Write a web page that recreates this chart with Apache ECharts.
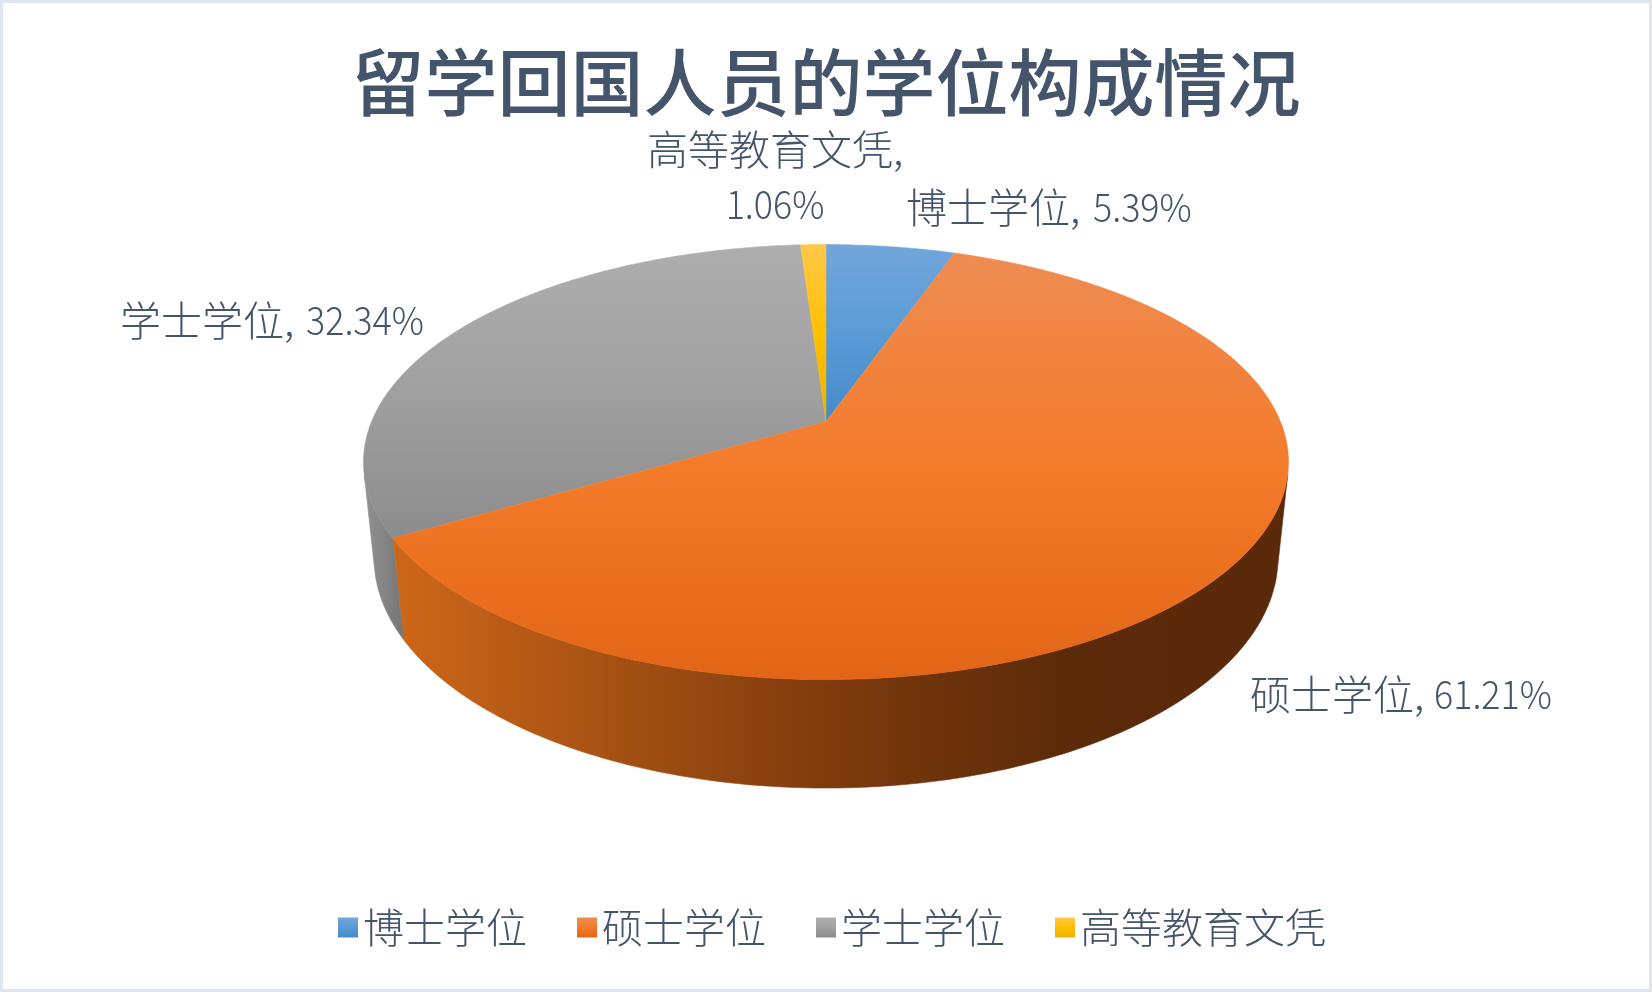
<!DOCTYPE html>
<html><head><meta charset="utf-8">
<style>html,body{margin:0;padding:0;background:#fff}#c{width:1652px;height:992px}</style>
<script src="https://cdn.jsdelivr.net/npm/echarts@6/dist/echarts.min.js"></script>
</head><body><div id="c"></div>
<script>
const titleText = '留学回国人员的学位构成情况';
const categories = ['博士学位', '硕士学位', '学士学位', '高等教育文凭'];
const shares = [5.39, 61.21, 32.34, 1.06];

// styling tables
const nameAnchors = [[906, 207, 'left'], [1250, 694, 'left'], [120, 320, 'left'], [647, 149, 'left']];
const valueAnchors = [[1093, 207, 'left'], [1434, 694, 'left'], [306, 320, 'left'], [775, 204, 'center']];
const topStops = [
  ['#72A6DB', '#5B9BD5', '#428AC9'],
  ['#EE8C52', '#F47B2A', '#E26516'],
  ['#AEAEAE', '#A0A0A0', '#8C8C8C'],
  ['#FFC84A', '#FFC000', '#EDB200']
];
const wallStops = [
  [[0, '#3C6E9C'], [1, '#2F5A82']],
  [[0, '#CE6719'], [0.5, '#7C3A0D'], [0.75, '#5C2A09'], [1, '#5A2909']],
  [[0, '#929292'], [1, '#767676']],
  [[0, '#B08600'], [1, '#8F6D00']]
];
const ink = '#44546A';
const textFont = '"Noto Sans CJK SC",sans-serif';

// perspective of the disc
const view = {cx: 826, y0: 421.5, A: 454.4, B: 210, k: 0.1864, C: 96.5, m: 0.0226};
function project(share, h) {
  const t = share / 100 * 2 * Math.PI;
  const u = Math.sin(t), v = Math.cos(t);
  const w = 1 + view.k * v + view.m * h;
  return [view.cx + view.A * u / w, view.y0 - (view.B * v - view.C * h) / w];
}
const vanish = [view.cx, view.y0 + view.C / view.m];
function wallFacing(share) {
  const p = project(share - 0.05, 0), q = project(share + 0.05, 0);
  return (q[0] - p[0]) * (vanish[1] - p[1]) - (q[1] - p[1]) * (vanish[0] - p[0]) < 0;
}
function grad(x2, y2, stops) {
  return new echarts.graphic.LinearGradient(0, 0, x2, y2, stops);
}
function topGradient(i) {
  const s = topStops[i];
  return grad(0, 1, [{offset: 0, color: s[0]}, {offset: 0.5, color: s[1]}, {offset: 1, color: s[2]}]);
}

function renderSlice(params, api) {
  const i = params.seriesIndex;
  const start = api.value(0), value = api.value(1);
  const steps = Math.max(4, Math.ceil(value * 4));
  const rim = [], wallTop = [], wallBottom = [];
  for (let n = 0; n <= steps; n++) {
    const s = start + value * n / steps;
    rim.push(project(s, 0));
    if (wallFacing(s)) { wallTop.push(project(s, 0)); wallBottom.unshift(project(s, 1)); }
  }
  const children = [];
  if (wallTop.length > 1) {
    const fill = grad(1, 0, wallStops[i].map(d => ({offset: d[0], color: d[1]})));
    children.push({type: 'polygon', z2: 1, shape: {points: wallTop.concat(wallBottom)},
      style: {fill, stroke: fill, lineWidth: 0.6}});
  }
  const topFill = topGradient(i);
  children.push({type: 'polygon', z2: 2 + (i === 1 ? 1 : 0),
    shape: {points: [[view.cx, view.y0]].concat(rim)},
    style: {fill: topFill, stroke: topFill, lineWidth: 0.5}});
  const a = nameAnchors[i], b = valueAnchors[i];
  children.push({type: 'text', z2: 5, x: a[0], y: a[1], style: {
    text: categories[i] + ',',
    fill: ink, font: '300 41px ' + textFont, align: a[2], verticalAlign: 'middle'
  }});
  children.push({type: 'text', z2: 5, x: b[0], y: b[1], scaleX: 0.92, style: {
    text: shares[i].toFixed(2) + '%',
    fill: ink, font: '300 39px ' + textFont, align: b[2], verticalAlign: 'middle'
  }});
  return {type: 'group', children};
}

let running = 0;
const series = categories.map((name, i) => {
  const start = running;
  running += shares[i];
  return {
    type: 'custom', name, coordinateSystem: 'none', silent: true,
    renderItem: renderSlice,
    itemStyle: {color: topGradient(i)},
    data: [[start, shares[i]]],
    animation: false
  };
});

const chart = echarts.init(document.getElementById('c'), null, {renderer: 'canvas'});
chart.setOption({
  backgroundColor: '#fff',
  animation: false,
  title: {
    text: titleText, left: 'center', top: 41,
    textStyle: {color: ink, fontSize: 73, fontWeight: 500, fontFamily: textFont}
  },
  legend: {
    data: categories, bottom: 39, left: 333, icon: 'rect',
    itemWidth: 20, itemHeight: 20, itemGap: 50,
    textStyle: {color: ink, fontSize: 41, fontWeight: 300, fontFamily: textFont}
  },
  graphic: [{type: 'rect', silent: true, z: -1,
    shape: {x: 1.5, y: 1.5, width: 1649, height: 989},
    style: {fill: 'none', stroke: '#DEE5ED', lineWidth: 3}}],
  series
});
</script></body></html>
